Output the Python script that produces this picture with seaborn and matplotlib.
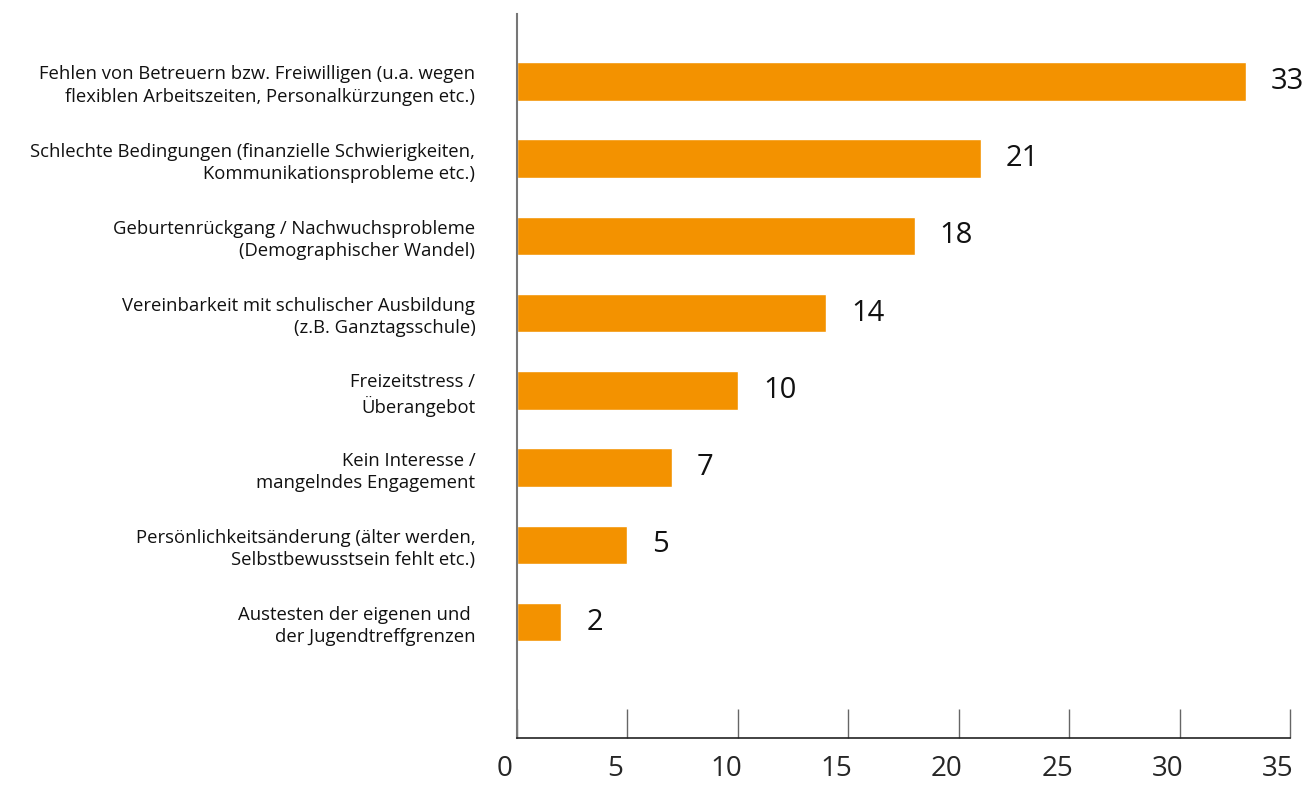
import matplotlib.pyplot as plt
import matplotlib.transforms as mtransforms
import seaborn as sns
import pandas as pd

# Gründe für den Rückgang der Besucherzahlen
gruende = [
    "Fehlen von Betreuern bzw. Freiwilligen (u.a. wegen\nflexiblen Arbeitszeiten, Personalkürzungen etc.)",
    "Schlechte Bedingungen (finanzielle Schwierigkeiten,\nKommunikationsprobleme etc.)",
    "Geburtenrückgang / Nachwuchsprobleme\n(Demographischer Wandel)",
    "Vereinbarkeit mit schulischer Ausbildung\n(z.B. Ganztagsschule)",
    "Freizeitstress /\nÜberangebot",
    "Kein Interesse /\nmangelndes Engagement",
    "Persönlichkeitsänderung (älter werden,\nSelbstbewusstsein fehlt etc.)",
    "Austesten der eigenen und \nder Jugendtreffgrenzen",
]
anzahl = [33, 21, 18, 14, 10, 7, 5, 2]
x_ticks = [0, 5, 10, 15, 20, 25, 30, 35]

DATEN = pd.DataFrame({"grund": gruende, "anzahl": anzahl})

sns.set_style("white")
plt.rcParams["font.family"] = ["Open Sans", "DejaVu Sans"]

fig = plt.figure(figsize=(13.03, 7.87), dpi=100)
ax = fig.add_axes([0.3968, 0.0623, 0.5932, 0.9197])

sns.barplot(data=DATEN, x="anzahl", y="grund", color="#F39200", width=0.5,
            saturation=1, ax=ax)

for i, wert in enumerate(anzahl):
    ax.annotate(str(wert), xy=(wert, i), xytext=(18, 0), textcoords="offset points",
                va="center", ha="left", fontsize=21, color="#111111")

ax.set_xlim(0, 35)
ax.set_ylim(8.5, -0.87)
ax.set_xticks(x_ticks)
ax.set_xticklabels([str(t) for t in x_ticks], fontsize=20)
ax.set_xlabel("")
ax.set_ylabel("")

ax.tick_params(axis="x", bottom=True, direction="in", length=21, width=1,
               color="#666666", pad=12)
ax.tick_params(axis="y", left=False, length=0, pad=30, labelsize=13.3)
for lbl in ax.get_yticklabels():
    lbl.set_linespacing(1.3)
    lbl.set_color("#111111")

# Zahlen unten leicht nach links verschoben wie im Original
verschiebung = mtransforms.ScaledTranslation(-0.12, 0, fig.dpi_scale_trans)
for lbl in ax.get_xticklabels():
    lbl.set_transform(lbl.get_transform() + verschiebung)

sns.despine(ax=ax, top=True, right=True)
ax.spines["left"].set_color("#777777")
ax.spines["left"].set_linewidth(1.5)
ax.spines["bottom"].set_color("#222222")
ax.spines["bottom"].set_linewidth(1.2)

plt.savefig("out.png", dpi=100)
